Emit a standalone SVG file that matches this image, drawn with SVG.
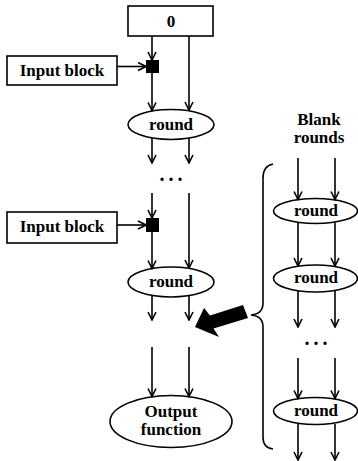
<svg xmlns="http://www.w3.org/2000/svg" width="358" height="461" viewBox="0 0 358 461">
<style>
text{font-family:"Liberation Serif","Times New Roman",serif;font-weight:bold;font-size:17px;text-anchor:middle;fill:#000}
.d{font-size:20px;letter-spacing:4px}
.b{fill:#fff;stroke:#000;stroke-width:1.6}
.c line{stroke:#000;stroke-width:1.6;marker-end:url(#a)}
</style>
<defs>
<marker id="a" viewBox="0 0 10 10" refX="9" refY="5" markerWidth="10" markerHeight="10" markerUnits="userSpaceOnUse" orient="auto">
<path d="M1,1 L9,5 L1,9" fill="none" stroke="#000" stroke-width="1.6"/>
</marker>
</defs>
<rect width="358" height="461" fill="#fff"/>
<g id="zero"><rect class="b" x="128" y="6" width="85" height="30"/><text x="171" y="27">0</text></g>
<g id="input1"><rect class="b" x="7" y="56" width="110" height="29"/><text x="62" y="76">Input block</text></g>
<g id="xor1"><rect x="146" y="60" width="13" height="13" fill="#000"/></g>
<g id="round1"><ellipse class="b" cx="171" cy="124.5" rx="43" ry="15"/><text x="171" y="130">round</text></g>
<g id="dots1"><text class="d" x="173" y="181">...</text></g>
<g id="input2"><rect class="b" x="7" y="212" width="110" height="31"/><text x="62" y="232">Input block</text></g>
<g id="xor2"><rect x="146" y="218" width="13" height="14" fill="#000"/></g>
<g id="round2"><ellipse class="b" cx="171" cy="282" rx="43" ry="15"/><text x="171" y="287">round</text></g>
<g id="output"><ellipse class="b" cx="171" cy="421.5" rx="61" ry="26"/><text x="171" y="417">Output</text><text x="171" y="435">function</text></g>
<g id="blank"><text x="319" y="125">Blank</text><text x="319" y="143">rounds</text></g>
<g id="r1"><ellipse class="b" cx="315.5" cy="211" rx="42" ry="12.5"/><text x="316" y="216">round</text></g>
<g id="r2"><ellipse class="b" cx="315.5" cy="278.5" rx="42" ry="13.5"/><text x="316" y="283">round</text></g>
<g id="dots2"><text class="d" x="318" y="345">...</text></g>
<g id="r3"><ellipse class="b" cx="315.5" cy="411" rx="42" ry="13.5"/><text x="316" y="416">round</text></g>
<g id="brace"><path d="M273,164 Q263,166 263,178 L263,303 Q263,314 251,315 Q263,316 263,327 L263,437 Q263,448 273,449" fill="none" stroke="#000" stroke-width="1.6"/></g>
<g id="bigarrow"><polygon points="248,318 243,305 210,315.5 204,308 195,327 219,337 213.5,328.5" fill="#000"/></g>
<g id="connectors" class="c">
<line x1="152" y1="36" x2="152" y2="60"/>
<line x1="189" y1="36" x2="189" y2="110"/>
<line x1="117" y1="66.5" x2="146" y2="66.5"/>
<line x1="152" y1="73" x2="152" y2="110.5"/>
<line x1="152" y1="138" x2="152" y2="163"/>
<line x1="189" y1="138" x2="189" y2="163"/>
<line x1="152" y1="193" x2="152" y2="218"/>
<line x1="189" y1="193" x2="189" y2="268"/>
<line x1="117" y1="225" x2="146" y2="225"/>
<line x1="152" y1="232" x2="152" y2="268.5"/>
<line x1="152" y1="296" x2="152" y2="320"/>
<line x1="189" y1="296" x2="189" y2="320"/>
<line x1="152" y1="347" x2="152" y2="396.5"/>
<line x1="189" y1="347" x2="189" y2="396.5"/>
<line x1="298" y1="158" x2="298" y2="199.5"/>
<line x1="335" y1="158" x2="335" y2="199.5"/>
<line x1="298" y1="222.5" x2="298" y2="266"/>
<line x1="335" y1="222.5" x2="335" y2="266"/>
<line x1="298" y1="291" x2="298" y2="327"/>
<line x1="335" y1="291" x2="335" y2="327"/>
<line x1="298" y1="358" x2="298" y2="398.5"/>
<line x1="335" y1="358" x2="335" y2="398.5"/>
<line x1="298" y1="424" x2="298" y2="460"/>
<line x1="335" y1="424" x2="335" y2="460"/>
</g>
</svg>
